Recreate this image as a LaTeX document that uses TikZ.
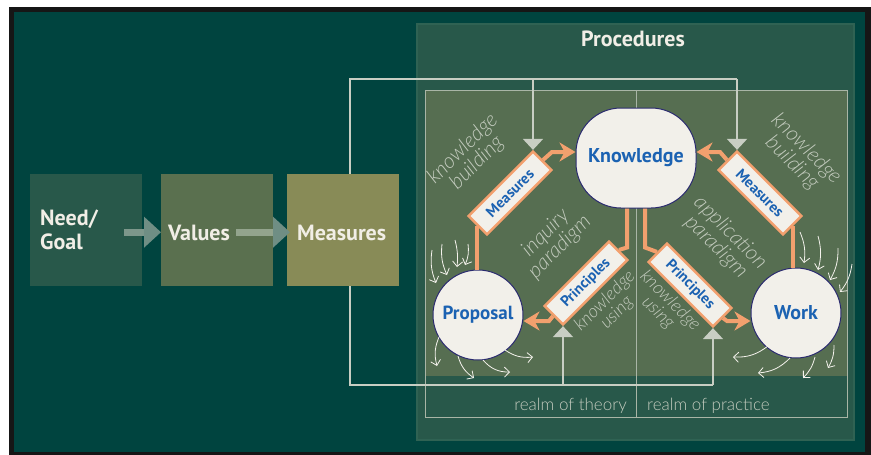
\documentclass[tikz,border=0pt]{standalone}
\usepackage{fontspec}
\setmainfont{PT Sans}
\newfontfamily\lightfont{Lato Light}
\usetikzlibrary{arrows.meta}
\definecolor{bg}{HTML}{00443F}
\definecolor{frame}{HTML}{161616}
\definecolor{panel}{HTML}{28584A}
\definecolor{panelb}{HTML}{2F6253}
\definecolor{innerc}{HTML}{566E51}
\definecolor{thinc}{HTML}{A9B5A6}
\definecolor{grayl}{HTML}{C8CEC3}
\definecolor{orng}{HTML}{F2A06E}
\definecolor{nfill}{HTML}{F2F0EA}
\definecolor{nbord}{HTML}{2A2A6E}
\definecolor{blu}{HTML}{1B62B2}
\definecolor{boxa}{HTML}{28584A}
\definecolor{boxb}{HTML}{5A704F}
\definecolor{boxc}{HTML}{888B57}
\definecolor{txt}{HTML}{F1EEE6}
\definecolor{labc}{HTML}{C3CBBE}
\definecolor{arra}{HTML}{6F8E84}
\definecolor{arras}{HTML}{7D978B}
\definecolor{arrbs}{HTML}{93A48D}
\definecolor{wht}{HTML}{F4F2EC}
\tikzset{
  sqbox/.style={minimum width=112pt, minimum height=112pt, inner sep=0pt, anchor=north west},
  boxtxt/.style={text=txt, font=\bfseries\fontsize{22}{25}\selectfont, inner sep=0pt},
  gl/.style={draw=grayl, line width=2pt},
  garr/.style={gl, -{Triangle[length=11pt,width=20pt]}},
  ol/.style={draw=orng, line width=4pt},
  oarr/.style={ol, -{Stealth[length=16pt,width=19pt,inset=5pt]}},
  tb/.style={draw=orng, line width=2.5pt, fill=nfill, minimum width=91pt, minimum height=26pt, inner sep=0pt, text=blu, font=\bfseries\fontsize{15}{15}\selectfont},
  circ/.style={circle, draw=nbord, line width=1pt, fill=nfill, minimum size=90pt, inner sep=0pt, text=blu, font=\bfseries\fontsize{19}{19}\selectfont},
  itl/.style={text=labc, align=center, inner sep=0pt, font=\lightfont\itshape\fontsize{21}{20}\selectfont},
  itls/.style={itl, font=\lightfont\itshape\fontsize{18}{17}\selectfont},
  realm/.style={text=labc, inner sep=0pt, font=\lightfont\fontsize{17}{17}\selectfont},
  wa/.style={draw=wht, line width=0.8pt, -{Straight Barb[length=5pt,width=10pt]}}
}
\begin{document}
\begin{tikzpicture}[x=1pt,y=-1pt]
\useasboundingbox (0,0) rectangle (871,455);
\fill[white] (0,0) rectangle (871,455);
\fill[frame] (9,7) rectangle (871,455);
\fill[bg] (14,12) rectangle (865,452);
% procedures panel
\filldraw[fill=panel, draw=panelb, line width=1.5pt] (417,24) rectangle (854,440);
\node[text=txt, font=\bfseries\fontsize{22}{24}\selectfont] (proc) at (633,39) {Procedures};
\fill[innerc] (425,90) rectangle (847,376);
\draw[thinc, line width=0.9pt] (425,90) rectangle (847,417);
\draw[thinc, line width=0.9pt] (636,90) -- (636,417);
% left boxes
\node[sqbox, fill=boxa] (b1) at (30,174) {};
\node[sqbox, fill=boxb] (b2) at (161,174) {};
\node[sqbox, fill=boxc] (b3) at (287,174) {};
\node[boxtxt, anchor=base west] (t1) at (40,225) {Need/};
\node[boxtxt, anchor=base west] (t1b) at (40,249) {Goal};
\node[boxtxt, anchor=base west] (t2) at (168,240) {Values};
\node[boxtxt, anchor=base west] (t3) at (297,240) {Measures};
\draw[line width=7pt, arras, -{Triangle[length=17pt,width=30pt,color=arra]}] ([xshift=-18pt,yshift=-2pt]b1.east) -- ([yshift=-2pt]b2.west);
\draw[line width=7pt, arrbs, -{Triangle[length=17pt,width=30pt,color=arra]}] ([xshift=-37pt,yshift=-2pt]b2.east) -- ([xshift=3pt,yshift=-2pt]b3.west);
% main nodes
\node[draw=nbord, line width=1pt, fill=nfill, rounded corners=45pt, minimum width=120pt, minimum height=100pt, inner sep=0pt, text=blu, font=\bfseries\fontsize{20}{20}\selectfont] (know) at (636,158) {Knowledge};
\node[circ] (prop) at (478,315) {Proposal};
\node[circ, font=\bfseries\fontsize{20}{20}\selectfont] (work) at (796,313) {Work};
% tilted boxes
\node[tb, rotate=45] (mL) at (510,193) {Measures};
\node[tb, rotate=-45] (mR) at (760,193) {Measures};
\node[tb, rotate=45] (mPL) at (586,283) {Principles};
\node[tb, rotate=-45] (mPR) at (690,285) {Principles};
% orange connectors
\draw[ol] (mL.west) -- (mL.west |- prop.north);
\draw[oarr] (mL.east) -- (552,152) -- ([yshift=6pt]know.west);
\draw[ol] (mR.east) -- (mR.east |- work.north);
\draw[oarr] (mR.west) -- (720,152) -- ([yshift=6pt]know.east);
\draw[ol] ([xshift=-9pt]know.south) -- ++(0,39) -- (mPL.east);
\draw[oarr] (mPL.west) -- (549,321) -- ([yshift=-6pt]prop.east);
\draw[ol] ([xshift=9pt]know.south) -- ++(0,39) -- (mPR.west);
\draw[oarr] (mPR.east) -- (727,321) -- ([yshift=-8pt]work.west);
% gray connectors
\coordinate (tl) at (350,79);
\coordinate (bl) at (350,385);
\draw[gl] (tl |- b3.north) -- (tl) -- (tl -| mR.north west);
\draw[garr] (tl -| mL.north east) -- (mL.north east);
\draw[garr] (tl -| mR.north west) -- (mR.north west);
\draw[gl] (bl |- b3.south) -- (bl) -- (bl -| mPR.south east);
\draw[garr] (bl -| mPL.south west) -- (mPL.south west);
\draw[garr] (bl -| mPR.south east) -- (mPR.south east);
% italic labels
\node[itl, rotate=45] (kbl) at (470,156) {knowledge\\building};
\node[itl, rotate=-45] (kbr) at (799,156) {knowledge\\building};
\node[itl, rotate=45] (inq) at (553,240) {inquiry\\paradigm};
\node[itl, rotate=-45] (app) at (723,240) {application\\paradigm};
\node[itls, rotate=45] (kul) at (611,307) {knowledge\\using};
\node[itls, rotate=-45] (kur) at (664,307) {knowledge\\using};
% realm labels
\node[realm, anchor=base east] (rt) at (627,410) {realm of theory};
\node[realm, anchor=base west] (rp) at (647,410) {realm of practice};
% sketch arrows around Proposal
\draw[wa] (432,250) to[bend right=15] (436,283);
\draw[wa] (442,244) to[bend right=15] (447,275);
\draw[wa] (455,240) to[bend left=10] (457,267);
\draw[wa] (468,244) to[bend left=15] (465,265);
\draw[wa] (440,335) to[bend right=20] (437,366);
\draw[wa] (458,356) to[bend right=20] (474,378);
\draw[wa] (483,360) to[bend right=25] (510,372);
\draw[wa] (505,350) to[bend right=20] (533,357);
% sketch arrows around Work
\draw[wa] (800,232) to[bend left=15] (804,263);
\draw[wa] (818,236) to[bend left=15] (818,270);
\draw[wa] (838,248) to[bend left=15] (830,280);
\draw[wa] (852,264) to[bend left=15] (840,292);
\draw[wa] (768,346) to[bend left=20] (733,357);
\draw[wa] (790,358) to[bend left=20] (758,373);
\draw[wa] (815,357) to[bend left=15] (803,378);
\draw[wa] (834,345) to[bend left=15] (828,368);
\end{tikzpicture}
\end{document}
